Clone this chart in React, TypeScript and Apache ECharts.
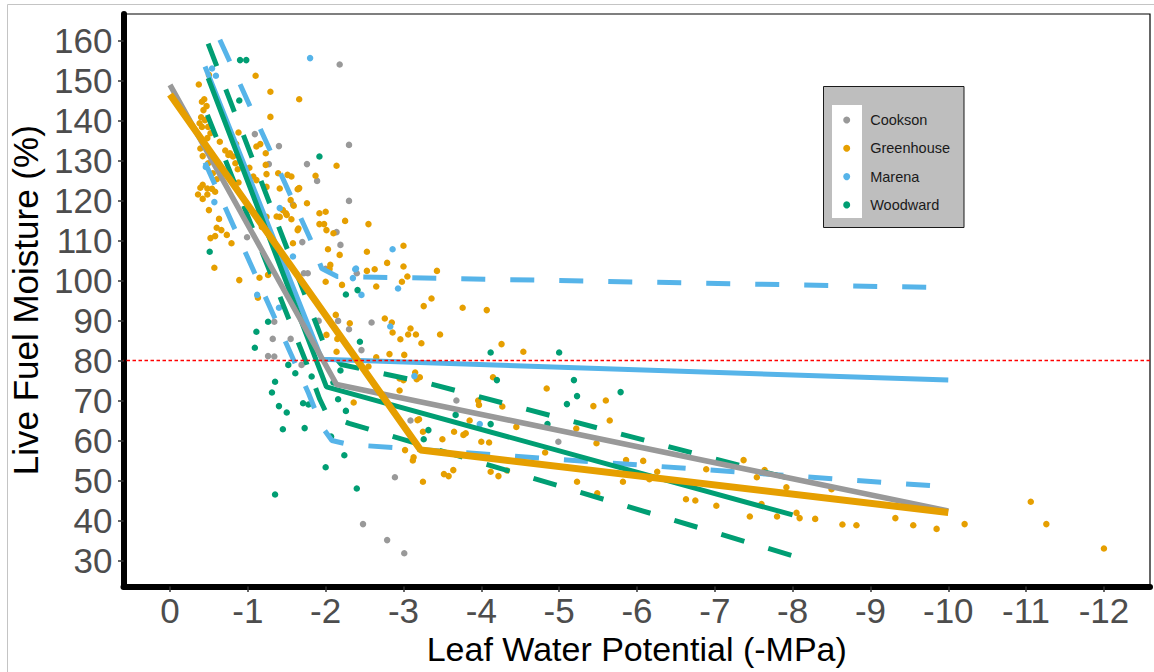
import React, { useEffect, useRef } from "react";
import * as echarts from "echarts";

const FONT = "'Liberation Sans', Arial, Helvetica, sans-serif";

const seriesNames = ["Cookson", "Greenhouse", "Marena", "Woodward"];
const seriesColors = ["#999999", "#E69F00", "#56B4E9", "#009E73"];

const xTicks = [0, -1, -2, -3, -4, -5, -6, -7, -8, -9, -10, -11, -12];
const yTicks = [30, 40, 50, 60, 70, 80, 90, 100, 110, 120, 130, 140, 150, 160];
const thresholdLFM = 80;

const cooksonPts = [
  [-2.18, 154], [-1.09, 136.6], [-1.4, 133.6], [-2.3, 133.9], [-1.27, 129.1], [-1.76, 129.1],
  [-1.89, 124.9], [-2.3, 119.9], [-1.58, 119.0], [-0.99, 110.8], [-1.7, 109.6], [-2.19, 108.9],
  [-2.14, 112.1], [-1.72, 101.8], [-1.77, 101.8], [-2.0, 102.9], [-2.4, 101.8], [-1.34, 89.7],
  [-1.32, 85.4], [-1.55, 85.4], [-1.91, 89.9], [-2.16, 89.9], [-2.3, 87.8], [-1.26, 81.1],
  [-1.34, 81.0], [-1.69, 78.9], [-2.46, 82.6], [-2.59, 89.5], [-3.09, 65.0], [-3.68, 70.0],
  [-4.99, 59.7], [-2.89, 50.8], [-2.48, 39.1], [-2.79, 35.1], [-3.01, 31.8]
];

const greenhousePts = [
  [-1.1, 151.2], [-1.29, 147.2], [-1.66, 145.3], [-1.29, 140.9], [-2.14, 128.7], [-1.56, 126.0],
  [-1.87, 126.2], [-1.66, 123.1], [-0.37, 149.0], [-0.5, 151.4], [-0.44, 145.3], [-0.41, 144.7],
  [-0.47, 143.6], [-0.43, 142.6], [-0.4, 140.8], [-0.38, 139.3], [-0.41, 138.4], [-0.45, 140.1],
  [-0.49, 138.4], [-0.52, 136.8], [-0.48, 135.6], [-0.41, 135.1], [-0.39, 133.0], [-0.42, 131.1],
  [-0.49, 129.3], [-0.55, 126.8], [-0.6, 125.3], [-0.42, 123.9], [-0.48, 123.0], [-0.64, 134.7],
  [-0.71, 132.5], [-0.75, 131.4], [-0.88, 137.0], [-0.85, 134.1], [-0.81, 131.0], [-0.77, 131.8],
  [-0.84, 129.3], [-0.87, 127.8], [-1.11, 133.5], [-1.16, 134.1], [-1.23, 131.8], [-1.23, 128.9],
  [-1.07, 126.0], [-1.11, 125.1], [-1.02, 128.2], [-0.88, 124.5], [-1.24, 126.6], [-1.51, 126.4],
  [-1.64, 122.8], [-1.55, 120.1], [-1.49, 116.8], [-1.64, 112.6], [-1.41, 115.9], [-1.1, 116.8],
  [-1.24, 115.9], [-1.18, 113.4], [-1.24, 123.4], [-1.39, 126.8], [-0.36, 121.5], [-0.42, 120.4],
  [-0.48, 121.5], [-0.39, 123.2], [-0.54, 122.9], [-0.58, 122.2], [-0.5, 117.6], [-0.63, 115.4],
  [-0.6, 113.2], [-0.66, 112.6], [-0.73, 111.4], [-0.58, 111.1], [-0.52, 110.6], [-0.79, 109.3],
  [-0.57, 103.2], [-0.89, 100.1], [-1.13, 95.7], [-1.15, 100.7], [-1.26, 101.4], [-1.65, 122.9],
  [-1.76, 119.3], [-1.59, 118.7], [-1.41, 123.0], [-1.37, 116.0], [-1.5, 116.4], [-1.56, 115.3],
  [-1.45, 117.6], [-1.65, 113.0], [-1.92, 116.8], [-2.0, 117.2], [-1.92, 114.1], [-1.98, 114.1],
  [-2.1, 111.8], [-2.25, 114.9], [-2.55, 114.1], [-2.01, 112.6], [-1.58, 109.3], [-2.03, 107.8],
  [-2.18, 106.4], [-2.53, 107.2], [-3.0, 108.7], [-2.79, 104.4], [-2.06, 103.9], [-2.05, 102.9],
  [-2.0, 99.7], [-2.21, 98.9], [-2.53, 102.4], [-2.63, 102.8], [-3.0, 103.5], [-3.05, 101.0],
  [-2.98, 99.7], [-3.43, 102.4], [-2.65, 98.5], [-3.26, 93.6], [-3.36, 95.5], [-3.76, 93.2],
  [-4.07, 92.6], [-2.76, 90.5], [-2.85, 89.5], [-2.86, 87.0], [-3.09, 88.0], [-3.06, 86.5],
  [-3.16, 86.5], [-2.96, 85.3], [-3.23, 84.3], [-3.47, 86.5], [-4.26, 84.1], [-4.54, 82.2],
  [-2.82, 81.6], [-3.01, 81.4], [-2.31, 89.3], [-3.15, 77.0], [-3.17, 75.3], [-3.21, 75.8],
  [-2.95, 72.5], [-4.15, 75.8], [-3.96, 70.0], [-2.36, 69.5], [-2.13, 91.4], [-2.01, 86.4],
  [-2.14, 82.2], [-2.15, 85.4], [-2.65, 80.8], [-2.55, 78.5], [-2.95, 75.5], [-3.0, 75.1],
  [-3.18, 65.1], [-3.02, 57.6], [-3.13, 55.8], [-3.12, 55.0], [-7.02, 43.7], [-6.75, 45.0],
  [-6.63, 45.3], [-7.6, 44.1], [-7.92, 48.3], [-7.64, 52.6], [-7.54, 50.8], [-7.37, 55.1],
  [-6.89, 52.8], [-6.26, 52.2], [-6.08, 54.9], [-5.86, 55.1], [-5.82, 49.7], [-6.16, 50.3],
  [-5.65, 65.0], [-5.6, 70.0], [-5.44, 68.6], [-5.22, 63.0], [-5.49, 46.8], [-5.23, 49.7],
  [-4.84, 73.0], [-4.27, 68.5], [-4.45, 63.4], [-3.97, 68.9], [-3.85, 65.0], [-3.77, 61.4],
  [-3.8, 61.8], [-3.65, 62.2], [-3.5, 60.3], [-3.25, 62.2], [-3.2, 65.3], [-3.25, 49.7],
  [-3.52, 51.6], [-3.58, 51.1], [-3.64, 52.6], [-4.0, 59.7], [-4.1, 59.5], [-4.12, 52.2],
  [-4.22, 51.1], [-4.33, 52.5], [-4.82, 57.0], [-5.48, 59.3], [-11.06, 44.7], [-11.26, 39.1],
  [-12.0, 33.0], [-10.21, 39.1], [-9.85, 37.9], [-9.55, 38.8], [-9.32, 40.6], [-8.82, 38.8],
  [-8.64, 39.0], [-8.29, 40.4], [-8.09, 40.6], [-8.05, 41.9], [-7.8, 41.0], [-7.45, 41.0],
  [-8.5, 47.8]
];

const marenaPts = [
  [-1.8, 155.6], [-0.54, 153], [-0.59, 151.2], [-0.46, 128.4], [-0.57, 119.6], [-1.58, 106],
  [-2.39, 103], [-1.12, 96.4], [-1.4, 93.2], [-2.86, 107.8], [-2.38, 102.8], [-2.35, 100.6],
  [-2.46, 96.4], [-2.93, 98], [-2.83, 88.5], [-3.14, 76.1], [-3.98, 64.1], [-1.41, 118.1]
];

const woodwardPts = [
  [-0.9, 155.1], [-0.98, 155.1], [-0.89, 145], [-1.92, 131], [-0.51, 107.2], [-2.26, 96.5],
  [-2.41, 97.6], [-1.26, 89.7], [-1.11, 87.2], [-1.09, 83.2], [-1.35, 74.7], [-1.31, 72],
  [-1.61, 76.8], [-2.44, 84.7], [-4.12, 82], [-1.4, 68.6], [-1.5, 67], [-1.45, 62.8],
  [-1.73, 63.1], [-1.35, 46.5], [-2.0, 53.3], [-2.24, 56.3], [-2.4, 48], [-2.16, 70.3],
  [-2.26, 67.4], [-1.71, 69.3], [-1.78, 69], [-1.82, 76], [-1.52, 78.9], [-2.19, 77.5],
  [-2.1, 74.5], [-5.0, 82], [-4.2, 75.1], [-5.19, 75.1], [-5.23, 71.1], [-5.79, 72.1],
  [-5.1, 69.1], [-4.85, 64.1], [-4.12, 64.1], [-3.67, 66.4], [-3.32, 62.6], [-3.26, 60.3],
  [-2.07, 61]
];

const cooksonFit = [[0, 148.9], [-2.14, 74.0], [-10, 42.4]];
const greenhouseFit = [[0, 146.5], [-3.22, 57.6], [-10, 42.0]];
const marenaFit = [[-0.45, 153.5], [-1.95, 80.3], [-10, 75.1]];
const marenaUpper = [[-0.64, 160.2], [-1.8, 110.5], [-1.95, 103], [-2.15, 101], [-10, 98.2]];
const marenaLower = [[-0.45, 129.5], [-1.78, 71.8], [-1.95, 63.5], [-2.08, 60], [-2.3, 59], [-10, 48.4]];
const woodwardFit = [[-0.49, 150.6], [-2.01, 73.4], [-8, 41.4]];
const woodwardUpper = [[-0.49, 159.2], [-1.97, 84.5], [-2.2, 79], [-2.6, 77.3], [-3.3, 74.4], [-8, 50.3]];
const woodwardLower = [[-0.48, 141.4], [-1.75, 79.5], [-1.92, 70.5], [-2.02, 66.4], [-2.3, 64.3], [-8, 31.2]];

const pointSets = [cooksonPts, greenhousePts, marenaPts, woodwardPts];

function lineSeries(name: string, data: number[][], color: string, width: number, dashed: boolean, z: number) {
  return {
    name,
    type: "line",
    data,
    symbol: "none",
    showSymbol: false,
    clip: true,
    silent: true,
    z,
    lineStyle: { color, width, type: dashed ? [24, 25] : "solid", cap: "butt" },
  };
}

export default function App() {
  const ref = useRef<HTMLDivElement>(null);

  useEffect(() => {
    const chart = echarts.init(ref.current as HTMLDivElement, null, { renderer: "svg" });

    const scatterSeries = seriesNames.map((name, i) => ({
      name,
      type: "scatter",
      data: pointSets[i],
      symbol: "circle",
      symbolSize: 6.5,
      clip: false,
      silent: true,
      z: 2,
      itemStyle: { color: seriesColors[i], opacity: 1 },
    }));

    const lines = [
      lineSeries("Marena upper", marenaUpper, seriesColors[2], 5, true, 3),
      lineSeries("Marena lower", marenaLower, seriesColors[2], 5, true, 3),
      lineSeries("Woodward upper", woodwardUpper, seriesColors[3], 5, true, 3),
      lineSeries("Woodward lower", woodwardLower, seriesColors[3], 5, true, 3),
      lineSeries("Marena fit", marenaFit, seriesColors[2], 5, false, 4),
      lineSeries("Woodward fit", woodwardFit, seriesColors[3], 5, false, 4),
      lineSeries("Cookson fit", cooksonFit, seriesColors[0], 5.5, false, 4),
      {
        ...lineSeries("Greenhouse fit", greenhouseFit, seriesColors[1], 7, false, 4),
        markLine: {
          silent: true,
          symbol: ["none", "none"],
          label: { show: false },
          z: 6,
          lineStyle: { color: "#ff0000", type: [3.5, 2.5], width: 1.3 },
          data: [{ yAxis: thresholdLFM }],
        },
      },
    ];

    const option = {
      animation: false,
      backgroundColor: "#ffffff",
      textStyle: { fontFamily: FONT },
      grid: {
        left: 123.5,
        right: 4,
        top: 14,
        bottom: 85.5,
        show: true,
        borderColor: "#000000",
        borderWidth: 1.2,
        backgroundColor: "#ffffff",
      },
      xAxis: {
        type: "value",
        inverse: true,
        min: -12.592,
        max: 0.5975,
        name: "Leaf Water Potential (-MPa)",
        nameLocation: "middle",
        nameGap: 43,
        nameTextStyle: { fontSize: 34, color: "#000000", fontFamily: FONT },
        axisLine: { show: true, onZero: false, lineStyle: { color: "#000000", width: 6 } },
        axisTick: { show: true, length: 5.5, customValues: xTicks, lineStyle: { color: "#333333", width: 1.5 } },
        axisLabel: {
          customValues: xTicks,
          fontSize: 35,
          color: "#4d4d4d",
          margin: 6,
          fontFamily: FONT,
          formatter: (v: number) => String(v),
        },
        splitLine: { show: false },
      },
      yAxis: {
        type: "value",
        min: 23.5,
        max: 166.625,
        name: "Live Fuel Moisture (%)",
        nameLocation: "middle",
        nameGap: 71,
        nameTextStyle: { fontSize: 35, color: "#000000", fontFamily: FONT },
        axisLine: { show: true, onZero: false, lineStyle: { color: "#000000", width: 6 } },
        axisTick: { show: true, length: 5.5, customValues: yTicks, lineStyle: { color: "#333333", width: 1.5 } },
        axisLabel: {
          customValues: yTicks,
          fontSize: 35,
          color: "#4d4d4d",
          margin: 11,
          fontFamily: FONT,
        },
        splitLine: { show: false },
      },
      legend: {
        data: seriesNames,
        orient: "vertical",
        left: 843.2,
        top: 112,
        padding: 0,
        itemWidth: 7,
        itemHeight: 7,
        itemGap: 12.3,
        icon: "circle",
        selectedMode: false,
        textStyle: { fontSize: 14.5, lineHeight: 16, color: "#1a1a1a", fontFamily: FONT, padding: [0, 0, 0, 15] },
        z: 10,
      },
      graphic: [
        {
          type: "rect",
          silent: true,
          z: -10,
          shape: { x: 7.5, y: 4.5, width: 1150, height: 700 },
          style: { fill: "none", stroke: "#c4c4c4", lineWidth: 1 },
        },
        {
          type: "rect",
          silent: true,
          z: 8,
          shape: { x: 823.5, y: 86.5, width: 140.5, height: 141 },
          style: { fill: "#bebebe", stroke: "#1a1a1a", lineWidth: 1 },
        },
        {
          type: "rect",
          silent: true,
          z: 9,
          shape: { x: 832, y: 105, width: 30, height: 113 },
          style: { fill: "#ffffff" },
        },
      ],
      series: [...scatterSeries, ...lines],
    };

    chart.setOption(option as any);
    return () => chart.dispose();
  }, []);

  return (
    <div
      ref={ref}
      style={{ position: "fixed", left: 0, top: 0, width: 1154, height: 672, background: "#ffffff" }}
    />
  );
}
